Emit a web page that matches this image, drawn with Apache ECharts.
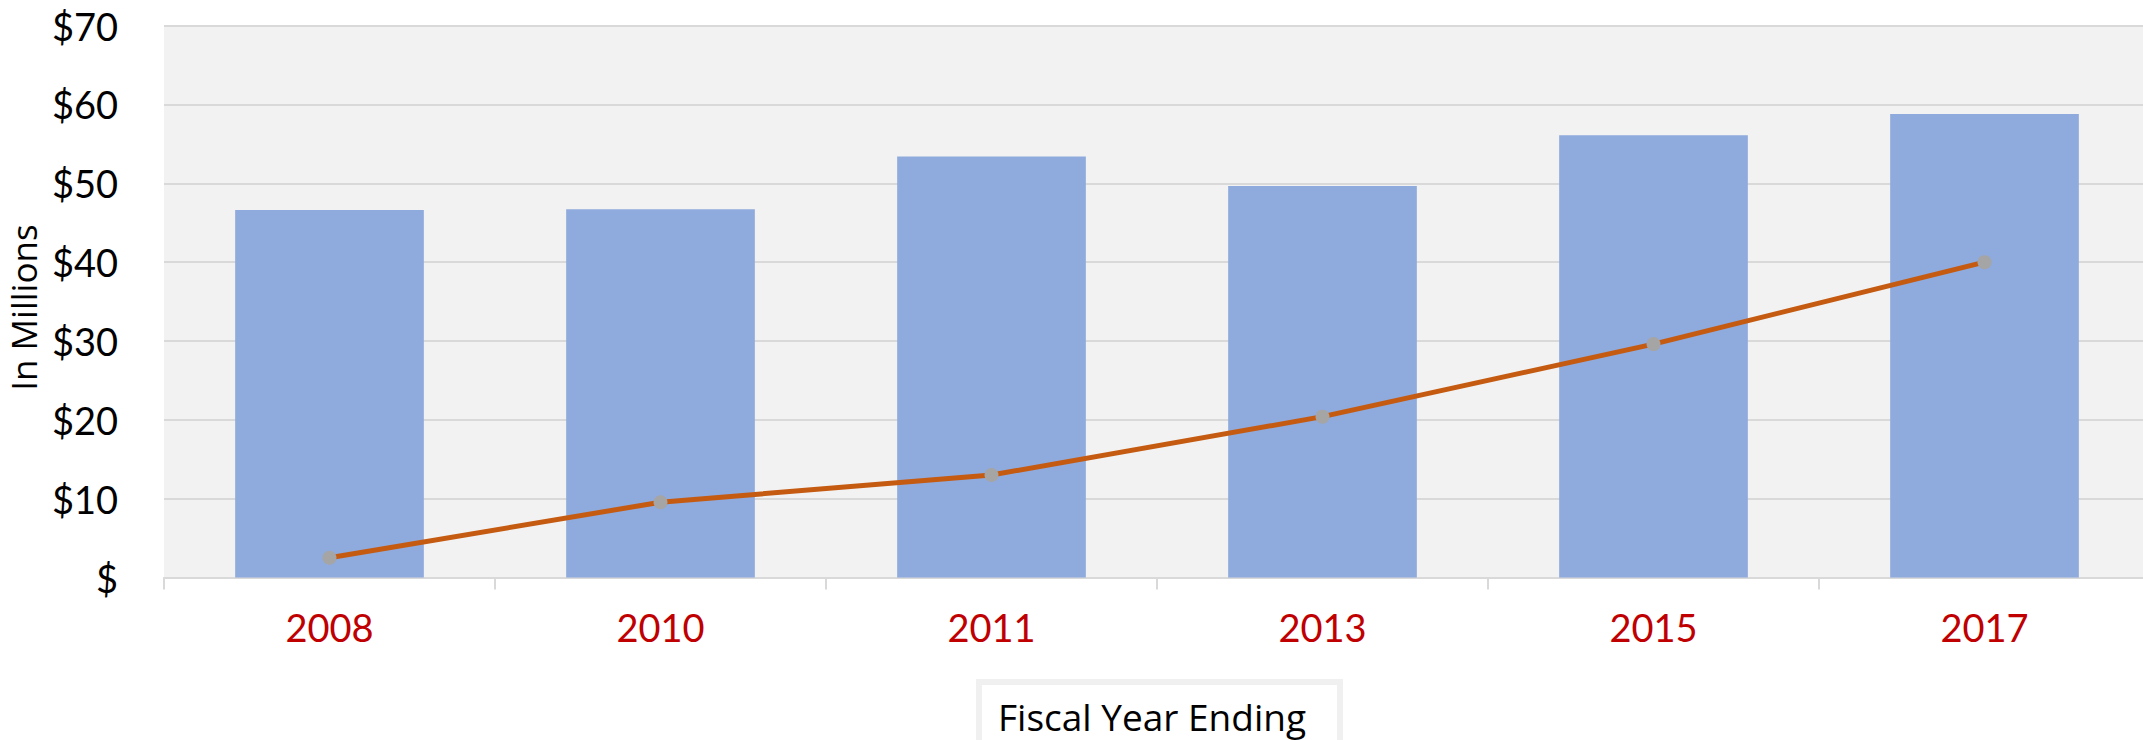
<!DOCTYPE html>
<html>
<head>
<meta charset="utf-8">
<script src="https://cdn.jsdelivr.net/npm/echarts@6/dist/echarts.min.js"></script>
<style>
html,body{margin:0;padding:0;background:#fff;}
#main{width:2143px;height:740px;}
</style>
</head>
<body>
<div id="main"></div>
<script>
const categories = ['2008', '2010', '2011', '2013', '2015', '2017'];
const barValues = [46.6, 46.7, 53.4, 49.65, 56.1, 58.8];
const lineValues = [2.5, 9.55, 13.0, 20.4, 29.6, 40.0];
const yTicks = [0, 10, 20, 30, 40, 50, 60, 70];
const yAxisName = 'In Millions';
const xAxisTitle = 'Fiscal Year Ending';

const chart = echarts.init(document.getElementById('main'), null, {renderer: 'svg'});
chart.setOption({
  animation: false,
  backgroundColor: '#ffffff',
  grid: {
    left: 164, top: 25.6, width: 1986, height: 551.9,
    containLabel: false, outerBoundsMode: 'none',
    show: true, backgroundColor: '#F2F2F2', borderWidth: 0
  },
  xAxis: {
    type: 'category',
    data: categories,
    boundaryGap: true,
    axisLine: {show: true, lineStyle: {color: '#D9D9D9', width: 2}},
    axisTick: {show: true, length: 12, lineStyle: {color: '#D9D9D9', width: 2}},
    axisLabel: {color: '#C00000', fontFamily: 'Lato', fontSize: 38, margin: 30}
  },
  yAxis: {
    type: 'value',
    min: yTicks[0], max: yTicks[yTicks.length - 1], interval: 10,
    name: yAxisName,
    nameLocation: 'middle',
    nameRotate: 90,
    nameGap: 103,
    nameTextStyle: {color: '#000', fontFamily: 'Open Sans', fontSize: 35, padding: [0, 12, 0, 0]},
    axisLine: {show: false},
    axisTick: {show: false},
    splitLine: {show: true, lineStyle: {color: '#D9D9D9', width: 2}},
    axisLabel: {
      color: '#000', fontFamily: 'Lato', fontSize: 38, margin: 46,
      formatter: v => v === 0 ? '$' : '$' + v
    }
  },
  series: [
    {
      type: 'bar',
      data: barValues,
      barWidth: '57%',
      itemStyle: {color: '#8FAADC'},
      z: 2
    },
    {
      type: 'line',
      data: lineValues,
      lineStyle: {color: '#C55A11', width: 5},
      symbol: 'circle',
      symbolSize: 14,
      itemStyle: {color: '#A5A5A5'},
      z: 3
    }
  ],
  graphic: [
    {
      type: 'rect',
      shape: {x: 979, y: 682, width: 361, height: 80},
      style: {fill: '#ffffff', stroke: '#F0F0F0', lineWidth: 6},
      z: 10
    },
    {
      type: 'text',
      x: 998, y: 716,
      style: {text: xAxisTitle, fill: '#000', font: '37px "Open Sans"', textAlign: 'left', textVerticalAlign: 'middle', verticalAlign: 'middle'},
      z: 11
    }
  ]
});
</script>
</body>
</html>
